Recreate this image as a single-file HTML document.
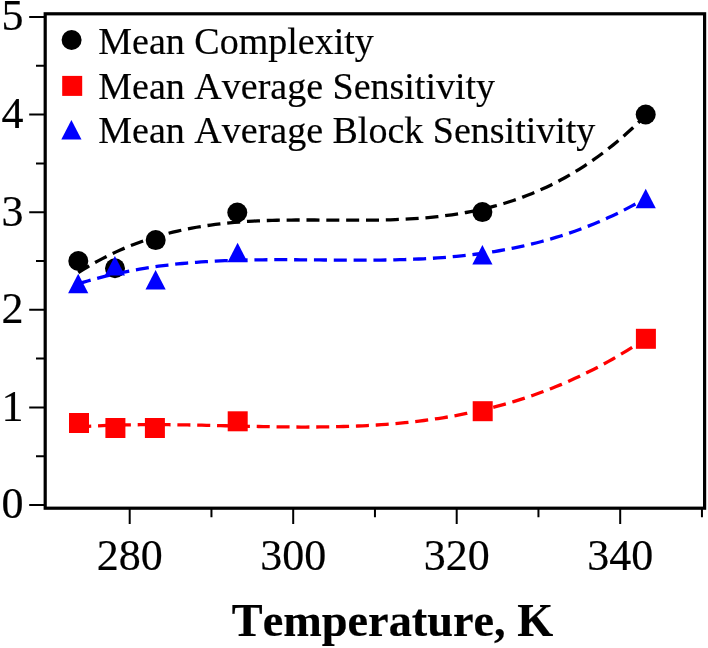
<!DOCTYPE html><html><head><meta charset="utf-8"><style>html,body{margin:0;padding:0;background:#fff;}svg{display:block;will-change:transform;}text{font-family:"Liberation Serif",serif;font-kerning:none;stroke:#000;stroke-width:0.2px;}</style></head><body>
<svg width="708" height="648" viewBox="0 0 708 648">
<rect width="708" height="648" fill="#fff"/>
<g fill="none" stroke-width="3.3" stroke-dasharray="13.04 6.8">
<path d="M78.30,272.56 L83.03,269.59 L87.76,266.74 L92.48,264.00 L97.21,261.36 L101.94,258.84 L106.67,256.41 L111.40,254.09 L116.13,251.87 L120.85,249.74 L125.58,247.71 L130.31,245.78 L135.04,243.93 L139.77,242.18 L144.50,240.51 L149.23,238.92 L153.95,237.42 L158.68,236.00 L163.41,234.65 L168.14,233.39 L172.87,232.19 L177.60,231.07 L182.32,230.02 L187.05,229.03 L191.78,228.11 L196.51,227.25 L201.24,226.46 L205.97,225.72 L210.69,225.04 L215.42,224.41 L220.15,223.84 L224.88,223.31 L229.61,222.84 L234.34,222.40 L239.06,222.02 L243.79,221.67 L248.52,221.37 L253.25,221.10 L257.98,220.86 L262.71,220.66 L267.43,220.49 L272.16,220.35 L276.89,220.23 L281.62,220.14 L286.35,220.07 L291.08,220.03 L295.80,219.99 L300.53,219.98 L305.26,219.98 L309.99,219.98 L314.72,220.00 L319.45,220.03 L324.17,220.06 L328.90,220.09 L333.63,220.12 L338.36,220.15 L343.09,220.18 L347.82,220.20 L352.54,220.22 L357.27,220.22 L362.00,220.21 L366.73,220.19 L371.46,220.15 L376.19,220.09 L380.91,220.01 L385.64,219.90 L390.37,219.78 L395.10,219.62 L399.83,219.43 L404.56,219.21 L409.28,218.96 L414.01,218.67 L418.74,218.35 L423.47,217.98 L428.20,217.57 L432.93,217.12 L437.65,216.62 L442.38,216.07 L447.11,215.46 L451.84,214.81 L456.57,214.10 L461.30,213.33 L466.02,212.50 L470.75,211.61 L475.48,210.66 L480.21,209.64 L484.94,208.55 L489.67,207.39 L494.39,206.16 L499.12,204.85 L503.85,203.46 L508.58,202.00 L513.31,200.45 L518.04,198.83 L522.76,197.11 L527.49,195.31 L532.22,193.42 L536.95,191.43 L541.68,189.35 L546.41,187.18 L551.13,184.90 L555.86,182.53 L560.59,180.05 L565.32,177.46 L570.05,174.77 L574.78,171.97 L579.50,169.06 L584.23,166.04 L588.96,162.89 L593.69,159.64 L598.42,156.26 L603.14,152.75 L607.87,149.13 L612.60,145.37 L617.33,141.49 L622.06,137.48 L626.79,133.33 L631.52,129.05 L636.24,124.63 L640.97,120.07 L645.70,115.37" stroke="#000" stroke-dashoffset="0.29"/>
<path d="M79.00,426.90 L83.72,426.59 L88.45,426.31 L93.17,426.05 L97.90,425.82 L102.62,425.61 L107.34,425.43 L112.07,425.27 L116.79,425.12 L121.52,425.00 L126.24,424.90 L130.97,424.82 L135.69,424.75 L140.41,424.70 L145.14,424.67 L149.86,424.65 L154.59,424.65 L159.31,424.66 L164.03,424.68 L168.76,424.72 L173.48,424.76 L178.21,424.82 L182.93,424.88 L187.66,424.96 L192.38,425.04 L197.10,425.13 L201.83,425.22 L206.55,425.32 L211.28,425.42 L216.00,425.53 L220.72,425.64 L225.45,425.75 L230.17,425.86 L234.90,425.97 L239.62,426.08 L244.35,426.18 L249.07,426.29 L253.79,426.39 L258.52,426.49 L263.24,426.58 L267.97,426.67 L272.69,426.75 L277.41,426.82 L282.14,426.88 L286.86,426.93 L291.59,426.97 L296.31,427.01 L301.04,427.03 L305.76,427.03 L310.48,427.02 L315.21,427.00 L319.93,426.97 L324.66,426.91 L329.38,426.84 L334.11,426.75 L338.83,426.64 L343.55,426.52 L348.28,426.37 L353.00,426.20 L357.73,426.01 L362.45,425.79 L367.17,425.55 L371.90,425.29 L376.62,425.00 L381.35,424.68 L386.07,424.34 L390.80,423.97 L395.52,423.57 L400.24,423.14 L404.97,422.68 L409.69,422.18 L414.42,421.66 L419.14,421.10 L423.86,420.51 L428.59,419.88 L433.31,419.21 L438.04,418.51 L442.76,417.77 L447.48,417.00 L452.21,416.18 L456.93,415.33 L461.66,414.43 L466.38,413.49 L471.11,412.51 L475.83,411.48 L480.55,410.41 L485.28,409.30 L490.00,408.13 L494.73,406.93 L499.45,405.67 L504.18,404.36 L508.90,403.01 L513.62,401.60 L518.35,400.15 L523.07,398.64 L527.80,397.08 L532.52,395.46 L537.24,393.79 L541.97,392.07 L546.69,390.29 L551.42,388.45 L556.14,386.55 L560.87,384.60 L565.59,382.58 L570.31,380.50 L575.04,378.37 L579.76,376.17 L584.49,373.90 L589.21,371.58 L593.93,369.18 L598.66,366.73 L603.38,364.20 L608.11,361.61 L612.83,358.95 L617.55,356.22 L622.28,353.42 L627.00,350.55 L631.73,347.61 L636.45,344.59 L641.18,341.51 L645.90,338.34" stroke="#f00" stroke-dashoffset="0.78"/>
</g>
<circle cx="78.3" cy="261" r="10" fill="#000"/>
<circle cx="115.0" cy="268.3" r="10" fill="#000"/>
<circle cx="155.7" cy="240.1" r="10" fill="#000"/>
<circle cx="237.3" cy="212.5" r="10" fill="#000"/>
<circle cx="482.4" cy="212.1" r="10" fill="#000"/>
<circle cx="645.7" cy="114.5" r="10" fill="#000"/>
<rect x="69" y="413" width="20" height="20" fill="#f00"/>
<rect x="105.4" y="418" width="20" height="20" fill="#f00"/>
<rect x="144.9" y="418" width="20" height="20" fill="#f00"/>
<rect x="227.7" y="411.3" width="20" height="20" fill="#f00"/>
<rect x="472.7" y="401.2" width="20" height="20" fill="#f00"/>
<rect x="635.9" y="328.8" width="20" height="20" fill="#f00"/>
<path d="M78.20,283.87 L82.93,282.41 L87.66,281.01 L92.39,279.66 L97.12,278.37 L101.85,277.14 L106.58,275.96 L111.30,274.83 L116.03,273.76 L120.76,272.74 L125.49,271.76 L130.22,270.84 L134.95,269.96 L139.68,269.13 L144.41,268.34 L149.14,267.59 L153.87,266.89 L158.60,266.23 L163.32,265.61 L168.05,265.03 L172.78,264.49 L177.51,263.98 L182.24,263.51 L186.97,263.07 L191.70,262.67 L196.43,262.30 L201.16,261.96 L205.89,261.65 L210.62,261.36 L215.35,261.11 L220.07,260.88 L224.80,260.67 L229.53,260.49 L234.26,260.33 L238.99,260.19 L243.72,260.07 L248.45,259.97 L253.18,259.89 L257.91,259.82 L262.64,259.78 L267.37,259.74 L272.10,259.72 L276.82,259.71 L281.55,259.71 L286.28,259.71 L291.01,259.73 L295.74,259.76 L300.47,259.79 L305.20,259.82 L309.93,259.86 L314.66,259.90 L319.39,259.94 L324.12,259.99 L328.85,260.03 L333.57,260.06 L338.30,260.10 L343.03,260.13 L347.76,260.15 L352.49,260.17 L357.22,260.18 L361.95,260.18 L366.68,260.17 L371.41,260.15 L376.14,260.11 L380.87,260.06 L385.60,259.99 L390.32,259.91 L395.05,259.81 L399.78,259.69 L404.51,259.56 L409.24,259.40 L413.97,259.21 L418.70,259.01 L423.43,258.78 L428.16,258.52 L432.89,258.24 L437.62,257.92 L442.35,257.58 L447.07,257.21 L451.80,256.80 L456.53,256.37 L461.26,255.89 L465.99,255.39 L470.72,254.84 L475.45,254.26 L480.18,253.64 L484.91,252.98 L489.64,252.28 L494.37,251.53 L499.10,250.75 L503.82,249.91 L508.55,249.03 L513.28,248.11 L518.01,247.13 L522.74,246.11 L527.47,245.03 L532.20,243.91 L536.93,242.73 L541.66,241.49 L546.39,240.20 L551.12,238.86 L555.85,237.45 L560.58,235.99 L565.30,234.46 L570.03,232.88 L574.76,231.23 L579.49,229.52 L584.22,227.74 L588.95,225.90 L593.68,223.99 L598.41,222.01 L603.14,219.97 L607.87,217.85 L612.60,215.66 L617.33,213.39 L622.05,211.05 L626.78,208.64 L631.51,206.15 L636.24,203.58 L640.97,200.93 L645.70,198.20" fill="none" stroke-width="3.3" stroke-dasharray="13.04 6.8" stroke="#00f" stroke-dashoffset="0.07"/>
<path d="M78.2,273.8 L88.3,293.3 L68.10000000000001,293.3 Z" fill="#00f"/>
<path d="M114.9,255.89999999999998 L125.0,275.4 L104.80000000000001,275.4 Z" fill="#00f"/>
<path d="M155.6,269.95 L165.7,289.45 L145.5,289.45 Z" fill="#00f"/>
<path d="M237.6,242.85 L247.7,262.35 L227.5,262.35 Z" fill="#00f"/>
<path d="M482.4,245.1 L492.5,264.6 L472.29999999999995,264.6 Z" fill="#00f"/>
<path d="M645.7,188.7 L655.8000000000001,208.2 L635.6,208.2 Z" fill="#00f"/>
<rect x="45.2" y="13.8" width="659.4" height="494.4" fill="none" stroke="#000" stroke-width="3.2"/>
<path d="M29.2,505.00 H44 M29.2,407.40 H44 M29.2,309.80 H44 M29.2,212.20 H44 M29.2,114.60 H44 M29.2,17.00 H44 M36,456.20 H44 M36,358.60 H44 M36,261.00 H44 M36,163.40 H44 M36,65.80 H44 M129.70,509 V524 M293.20,509 V524 M456.70,509 V524 M620.20,509 V524 M211.45,509 V517.3 M374.95,509 V517.3 M538.45,509 V517.3 M701.95,509 V517.3" stroke="#000" stroke-width="2" fill="none"/>
<text x="23.5" y="518.4" font-size="44" text-anchor="end">0</text>
<text x="23.5" y="420.8" font-size="44" text-anchor="end">1</text>
<text x="23.5" y="323.2" font-size="44" text-anchor="end">2</text>
<text x="23.5" y="225.6" font-size="44" text-anchor="end">3</text>
<text x="23.5" y="128.0" font-size="44" text-anchor="end">4</text>
<text x="23.5" y="30.4" font-size="44" text-anchor="end">5</text>
<text x="129.7" y="570" font-size="44" text-anchor="middle">280</text>
<text x="293.2" y="570" font-size="44" text-anchor="middle">300</text>
<text x="456.7" y="570" font-size="44" text-anchor="middle">320</text>
<text x="620.2" y="570" font-size="44" text-anchor="middle">340</text>
<circle cx="71.6" cy="40" r="10" fill="#000"/>
<rect x="62.2" y="75.9" width="20" height="20" fill="#f00"/>
<path d="M71.4,119.9 L81.5,139.4 L61.3,139.4 Z" fill="#00f"/>
<text x="98.3" y="53.9" font-size="38">Mean Complexity</text>
<text x="98.3" y="98.7" font-size="38">Mean Average Sensitivity</text>
<text x="98.3" y="143.4" font-size="38">Mean Average Block Sensitivity</text>
<text x="231.8" y="635.5" font-size="46.3" font-weight="bold">Temperature, K</text>
</svg></body></html>
